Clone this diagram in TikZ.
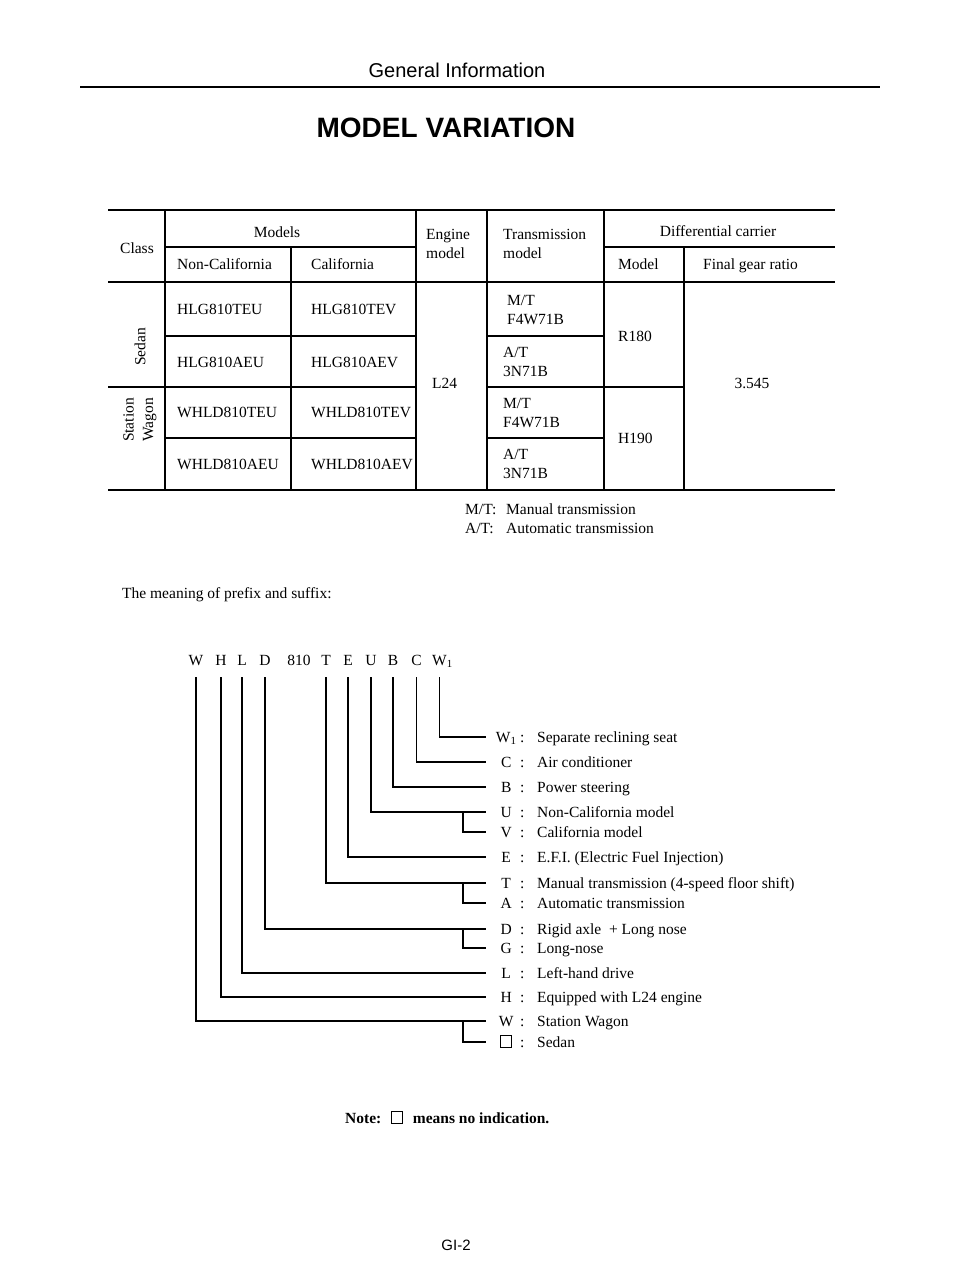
\documentclass[tikz,border=0pt]{standalone}
\usepackage{fontspec}
\setmainfont{Liberation Serif}
\newfontfamily\headsans{Liberation Sans}
\usepackage{tikz}

\newcommand{\blankmark}{{\fboxsep=0pt\fboxrule=0.8pt\framebox[11.5pt]{\rule{0pt}{11.5pt}}}}
\newcommand{\keyrow}[2]{\makebox[20pt][c]{#1}\makebox[12pt][c]{:}\hspace{9pt}#2}

\begin{document}
\begin{tikzpicture}[x=1pt, y=-1pt,
	txt/.style={font=\fontsize{15.5}{19.5}\selectfont, inner sep=0pt},
	cell/.style={txt, anchor=west, text height=10.5pt, text depth=0pt},
	cellc/.style={txt, text height=10.5pt, text depth=0pt},
	cell2/.style={txt, anchor=west, align=left},
	letter/.style={txt, anchor=base, text height=10.5pt, text depth=0pt, inner ysep=11.5pt},
	key/.style={txt, anchor=west, inner xsep=10pt, text height=10.5pt, text depth=0pt},
	rule/.style={line width=2.8pt},
	grid/.style={line width=1.2pt},
	link/.style={line width=1.2pt}]

		\useasboundingbox (0,0) rectangle (960,1268);

		% Cabecera
		\node[font=\headsans\fontsize{20}{24}\selectfont] (general) at (457,70) {General Information};
		\draw[rule] (80,87) -- (880,87);
		\node[font=\headsans\bfseries\fontsize{28}{32}\selectfont] (title) at (446,128) {MODEL VARIATION};

		% Tabla
		\draw[rule] (108,210) -- (835,210);
		\draw[rule] (108,490) -- (835,490);
		\draw[grid] (108,282) -- (835,282);
		\draw[grid] (165,247) -- (416,247);
		\draw[grid] (604,247) -- (835,247);
		\draw[grid] (165,210) -- (165,490);
		\draw[grid] (416,210) -- (416,490);
		\draw[grid] (487,210) -- (487,490);
		\draw[grid] (604,210) -- (604,490);
		\draw[grid] (291,247) -- (291,490);
		\draw[grid] (684,247) -- (684,490);
		\draw[grid] (165,336) -- (416,336);
		\draw[grid] (108,387) -- (416,387);
		\draw[grid] (165,438) -- (416,438);
		\draw[grid] (487,336) -- (604,336);
		\draw[grid] (487,387) -- (684,387);
		\draw[grid] (487,438) -- (604,438);

		\node[cellc] (class) at (137,248) {Class};
		\node[cellc] (models) at (277,232) {Models};
		\node[cell] (noncal) at (177,264) {Non-California};
		\node[cell] (cal) at (311,264) {California};
		\node[cell2] (engine) at (426,244) {Engine\\model};
		\node[cell2] (trans) at (503,244) {Transmission\\model};
		\node[cellc] (diff) at (718,231) {Differential carrier};
		\node[cell] (diffmodel) at (618,264) {Model};
		\node[cell] (ratio) at (703,264) {Final gear ratio};

		\node[txt, rotate=90] (sedan) at (140,347) {Sedan};
		\node[txt, rotate=90, align=center] (wagon) at (140,420) {Station\\Wagon};

		\node[cell] (hteu) at (177,309) {HLG810TEU};
		\node[cell] (htev) at (311,309) {HLG810TEV};
		\node[cell] (haeu) at (177,362) {HLG810AEU};
		\node[cell] (haev) at (311,362) {HLG810AEV};
		\node[cell] (wteu) at (177,412) {WHLD810TEU};
		\node[cell] (wtev) at (311,412) {WHLD810TEV};
		\node[cell] (waeu) at (177,464) {WHLD810AEU};
		\node[cell] (waev) at (311,464) {WHLD810AEV};

		\node[cell] (l24) at (432,383) {L24};
		\node[cell2] (mt1) at (507,310) {M/T\\F4W71B};
		\node[cell2] (at1) at (503,362) {A/T\\3N71B};
		\node[cell2] (mt2) at (503,413) {M/T\\F4W71B};
		\node[cell2] (at2) at (503,464) {A/T\\3N71B};
		\node[cell] (r180) at (618,336) {R180};
		\node[cell] (h190) at (618,438) {H190};
		\node[cellc] (gear) at (752,383) {3.545};

		\node[cell] (mtnote) at (465,509) {\makebox[41pt][l]{M/T:}Manual transmission};
		\node[cell] (atnote) at (465,528) {\makebox[41pt][l]{A/T:}Automatic transmission};

		% Prefijo y sufijo
		\node[cell] (meaning) at (122,593) {The meaning of prefix and suffix:};

		\node[letter] (cW) at (196,665.5) {W};
		\node[letter] (cH) at (221,665.5) {H};
		\node[letter] (cL) at (242,665.5) {L};
		\node[letter] (cD) at (265,665.5) {D};
		\node[letter] (c810) at (299,665.5) {810};
		\node[letter] (cT) at (326,665.5) {T};
		\node[letter] (cE) at (348,665.5) {E};
		\node[letter] (cU) at (371,665.5) {U};
		\node[letter] (cB) at (393,665.5) {B};
		\node[letter] (cC) at (416.5,665.5) {C};
		\node[letter] (cW1) at (439.5,665.5) {W\rlap{\textsubscript{1}}};

		\node[key] (lW1) at (486,737) {\keyrow{W\textsubscript{1}}{Separate reclining seat}};
		\node[key] (lC) at (486,762) {\keyrow{C}{Air conditioner}};
		\node[key] (lB) at (486,787) {\keyrow{B}{Power steering}};
		\node[key] (lU) at (486,812) {\keyrow{U}{Non-California model}};
		\node[key] (lV) at (486,832) {\keyrow{V}{California model}};
		\node[key] (lE) at (486,857) {\keyrow{E}{E.F.I. (Electric Fuel Injection)}};
		\node[key] (lT) at (486,883) {\keyrow{T}{Manual transmission (4-speed floor shift)}};
		\node[key] (lA) at (486,903) {\keyrow{A}{Automatic transmission}};
		\node[key] (lD) at (486,929) {\keyrow{D}{Rigid axle~ + Long nose}};
		\node[key] (lG) at (486,948) {\keyrow{G}{Long-nose}};
		\node[key] (lL) at (486,973) {\keyrow{L}{Left-hand drive}};
		\node[key] (lH) at (486,997) {\keyrow{H}{Equipped with L24 engine}};
		\node[key] (lW) at (486,1021) {\keyrow{W}{Station Wagon}};
		\node[key] (lS) at (486,1042) {\keyrow{\blankmark}{Sedan}};

		\coordinate (bU) at (463,812);
		\coordinate (bT) at (463,883);
		\coordinate (bD) at (463,929);
		\coordinate (bW) at (463,1021);

		% Lineas
		\draw[link] (cW1.south) |- (lW1.west);
		\draw[link] (cC.south) |- (lC.west);
		\draw[link] (cB.south) |- (lB.west);
		\draw[link] (cU.south) |- (lU.west);
		\draw[link] (bU) |- (lV.west);
		\draw[link] (cE.south) |- (lE.west);
		\draw[link] (cT.south) |- (lT.west);
		\draw[link] (bT) |- (lA.west);
		\draw[link] (cD.south) |- (lD.west);
		\draw[link] (bD) |- (lG.west);
		\draw[link] (cL.south) |- (lL.west);
		\draw[link] (cH.south) |- (lH.west);
		\draw[link] (cW.south) |- (lW.west);
		\draw[link] (bW) |- (lS.west);

		% Nota y pie
		\node[cell, font=\bfseries\fontsize{15.5}{19.5}\selectfont] (note) at (345,1118) {Note:\hspace{10pt}\blankmark\hspace{10pt}means no indication.};
		\node[font=\headsans\fontsize{15}{18}\selectfont] (page) at (456,1245) {GI-2};

	\end{tikzpicture}
\end{document}
